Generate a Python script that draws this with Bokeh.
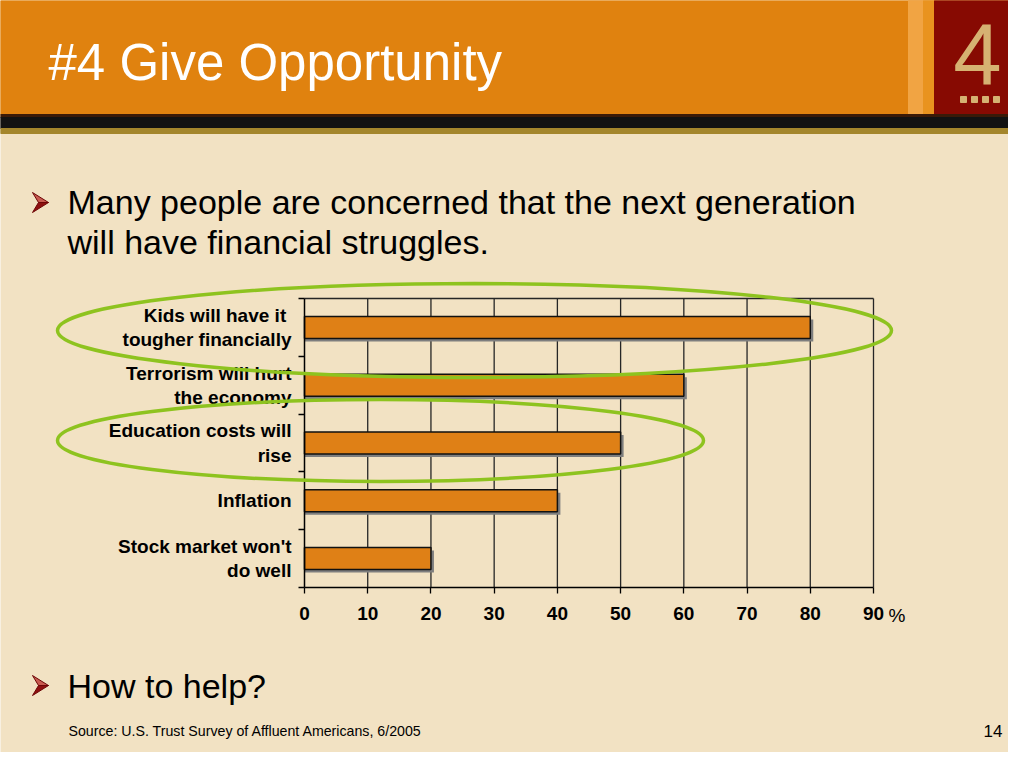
from bokeh.plotting import figure
from bokeh.models import Range1d, LinearAxis, FixedTicker
from bokeh.core.properties import value
from bokeh.embed import file_html
from bokeh.resources import INLINE

# ---------------- data ----------------
title_text = "#4 Give Opportunity"
bullet1_lines = ["Many people are concerned that the next generation",
                 "will have financial struggles."]
bullet2_text = "How to help?"
source_text = "Source: U.S. Trust Survey of Affluent Americans, 6/2005"
page_number = "14"
section_digit = "4"

categories = ["Kids will have it \ntougher financially",
              "Terrorism will hurt\nthe economy",
              "Education costs will\nrise",
              "Inflation",
              "Stock market won't\ndo well"]
values = [80, 60, 50, 40, 20]
x_ticks = [0, 10, 20, 30, 40, 50, 60, 70, 80, 90]
x_unit = "%"

# ---------------- styles ----------------
FONT = value("Liberation Sans")
BG = "#F2E2C3"
ORANGE = "#E0820F"
BAR = "#DF8016"
DARKRED = "#870A02"
TAN = "#D6B272"
GREEN = "#8EC31F"
GRIDC = "#262626"

W, H, OFF = 1008, 752, 0
CH_L, CH_R, CH_T, CH_B = 304, 873, 298, 587   # chart box in slide pixels

xmin, xmax = x_ticks[0], x_ticks[-1]
n = len(categories)
kx = (CH_R - CH_L) / (xmax - xmin)
ky = (CH_B - CH_T) / n
x_range = Range1d(xmin + (OFF - CH_L) / kx, xmin + (OFF + W - CH_L) / kx)
y_range = Range1d(-(OFF + H - CH_B) / ky, n + (CH_T - OFF) / ky)

p = figure(width=W, height=H, x_range=x_range, y_range=y_range,
           x_axis_type=None, y_axis_type=None, title=None,
           toolbar_location=None, tools="", output_backend="svg",
           min_border=0, background_fill_color=BG, border_fill_color=BG,
           outline_line_color=None)
p.extra_x_ranges = {"px": Range1d(OFF, OFF + W)}
p.extra_y_ranges = {"px": Range1d(OFF + H, OFF)}
PX = dict(x_range_name="px", y_range_name="px")

# ---------------- header ----------------
p.quad(left=[0], right=[1024], top=[0], bottom=[114], color=ORANGE, **PX)
p.quad(left=[908], right=[923], top=[0], bottom=[114], color="#F1A443", **PX)
p.quad(left=[923], right=[934], top=[0], bottom=[114], color="#E9931F", **PX)
p.quad(left=[934], right=[1024], top=[0], bottom=[115], color=DARKRED, **PX)
p.quad(left=[0], right=[1024], top=[114], bottom=[117], color="#3A1A08", **PX)
p.quad(left=[0], right=[1024], top=[117], bottom=[128], color="#121212", **PX)
p.quad(left=[0], right=[1024], top=[128], bottom=[133], color="#A4862C", **PX)
p.quad(left=[960, 971, 982, 993], right=[966, 977, 988, 999],
       top=[96] * 4, bottom=[102] * 4, color=TAN, **PX)

p.text(x=[48], y=[62], text=[title_text], text_font=FONT, text_font_size="51px",
       text_color="white", text_baseline="middle", **PX)
p.text(x=[977], y=[54], text=[section_digit], text_font=FONT, text_font_size="87px",
       text_color=TAN, text_align="center", text_baseline="middle", **PX)

# ---------------- bullets ----------------
def arrow(cx, cy):
    top = ([cx - 9, cx + 7, cx - 3], [cy - 10, cy, cy])
    bot = ([cx - 9, cx + 7, cx - 3], [cy + 10, cy, cy])
    return top, bot

for cy in (202, 685):
    t, b = arrow(41, cy)
    p.patch(x=t[0], y=t[1], fill_color="#C85A50", line_color="#6E0606", line_width=1, **PX)
    p.patch(x=b[0], y=b[1], fill_color="#8E1010", line_color="#6E0606", line_width=1, **PX)

p.text(x=[67, 67], y=[201, 241], text=bullet1_lines, text_font=FONT,
       text_font_size="34px", text_color="black", text_baseline="middle", **PX)
p.text(x=[67], y=[685], text=[bullet2_text], text_font=FONT,
       text_font_size="34px", text_color="black", text_baseline="middle", **PX)

p.text(x=[68], y=[730], text=[source_text], text_font=FONT, text_font_size="14.2px",
       text_color="black", text_baseline="middle", **PX)
p.text(x=[1002], y=[730], text=[page_number], text_font=FONT, text_font_size="17px",
       text_color="black", text_align="right", text_baseline="middle", **PX)

# ---------------- chart ----------------
pos = [n - 0.5 - i for i in range(n)]
grid_x = x_ticks[1:]
p.segment(x0=grid_x, y0=[0] * len(grid_x), x1=grid_x, y1=[n] * len(grid_x),
          line_color=GRIDC, line_width=1.3)
p.segment(x0=[xmin], y0=[n], x1=[xmax], y1=[n], line_color=GRIDC, line_width=1.3)

bar_h = 0.38
sdx, sdy = 3 / kx, 3 / ky
p.hbar(y=[v - sdy for v in pos], left=xmin, right=[v + sdx for v in values],
       height=bar_h, fill_color="#7E7E7E", line_color=None)
p.hbar(y=pos, left=xmin, right=values, height=bar_h, fill_color=BAR,
       line_color="#111111", line_width=1.5)

xaxis = LinearAxis(fixed_location=0, bounds=(xmin, xmax),
                   ticker=FixedTicker(ticks=x_ticks, minor_ticks=[]),
                   axis_line_color="black", axis_line_width=1.5,
                   major_tick_line_color="black", major_tick_line_width=1.3,
                   major_tick_out=6, major_tick_in=0, minor_tick_out=0,
                   major_label_standoff=13,
                   major_label_text_font="Liberation Sans",
                   major_label_text_font_size="19px",
                   major_label_text_font_style="bold",
                   major_label_text_color="black")
p.add_layout(xaxis, "below")

ytick_axis = LinearAxis(fixed_location=xmin, bounds=(0, n),
                        ticker=FixedTicker(ticks=list(range(n + 1)), minor_ticks=[]),
                        axis_line_color="black", axis_line_width=1.5,
                        major_tick_line_color="black", major_tick_line_width=1.3,
                        major_tick_out=6, major_tick_in=0, minor_tick_out=0,
                        major_label_text_color=None)
p.add_layout(ytick_axis, "left")

ylabel_axis = LinearAxis(fixed_location=xmin,
                         ticker=FixedTicker(ticks=pos, minor_ticks=[]),
                         major_label_overrides={pv: c for pv, c in zip(pos, categories)},
                         axis_line_color=None, major_tick_line_color=None,
                         major_tick_out=0, major_tick_in=0, minor_tick_out=0,
                         major_label_standoff=13,
                         major_label_text_font="Liberation Sans",
                         major_label_text_font_size="19px",
                         major_label_text_font_style="bold",
                         major_label_text_line_height=1.15,
                         major_label_text_color="black")
p.add_layout(ylabel_axis, "left")

p.text(x=[888], y=[615], text=[x_unit], text_font=FONT, text_font_size="19px",
       text_color="black", text_baseline="middle", **PX)

# ---------------- highlight ellipses ----------------
e = p.ellipse(x=[474, 380], y=[330, 440], width=[834, 646], height=[94, 82],
              width_units="screen", height_units="screen",
              fill_color=None, line_color=GREEN, line_width=3.5, **PX)
e.level = "overlay"

open("out.html", "w").write(file_html(p, INLINE))
